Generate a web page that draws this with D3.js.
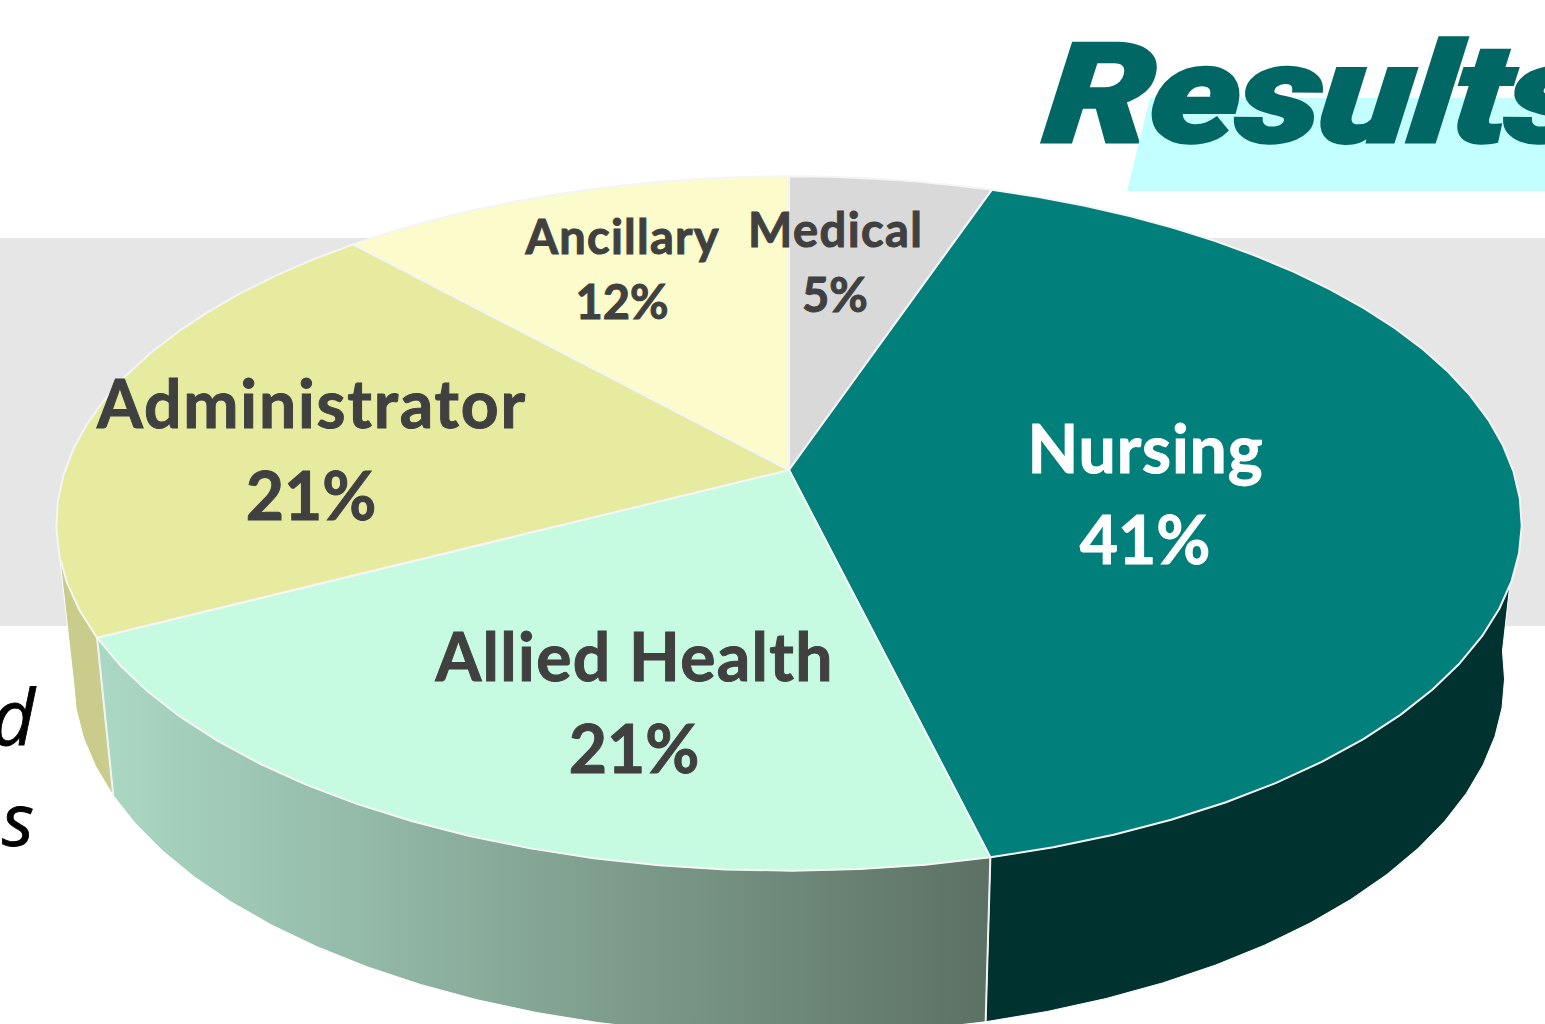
<!DOCTYPE html>
<html lang="en">
<head>
<script src="https://cdn.jsdelivr.net/npm/d3@7/dist/d3.min.js"></script>
<style>
html, body { margin: 0; padding: 0; background: #fff; overflow: hidden; }
#chart { width: 1545px; height: 1024px; }
text { font-family: Lato, "Open Sans", sans-serif; font-weight: 700; }
</style>
</head>
<body>
<div id="chart"></div>
<script>
// chart data (shares, labels show them rounded)
var categories = ["Medical", "Nursing", "Allied Health", "Administrator", "Ancillary"];
var shares = [5.2, 41, 21.2, 20.9, 11.7];
var topColors = ["#d9d9d9", "#007f7b", "#c6fbe2", "#e6eba0", "#fbfbcb"];
var labelColors = ["#404040", "#ffffff", "#404040", "#404040", "#404040"];

// label layout: centre x, first baseline, font size, line gap, name width
var labelLayout = [
    [835, 247, 47, 65, 174],
    [1145, 473, 66, 91, 235],
    [634, 681, 66, 92, 397],
    [311, 428, 66, 92, 428],
    [622, 254, 47, 65, 193]
];

var width = 1545, height = 1024;
var svg = d3.select("#chart").append("svg").attr("width", width).attr("height", height);

var defs = svg.append("defs");
var grad = defs.append("linearGradient").attr("id", "alliedSide")
    .attr("gradientUnits", "userSpaceOnUse")
    .attr("x1", 100).attr("x2", 990).attr("y1", 0).attr("y2", 0);
grad.append("stop").attr("offset", 0).attr("stop-color", "#abd8c5");
grad.append("stop").attr("offset", 1).attr("stop-color", "#5c7163");

// slide background
svg.append("rect").attr("x", 0).attr("y", 238).attr("width", width).attr("height", 388).attr("fill", "#e6e6e6");
svg.append("path").attr("d", "M1150,98H1545V191H1127Z").attr("fill", "#c4ffff");
svg.append("text")
    .attr("transform", "translate(1042,142) skewX(-6) scale(1.22,1)")
    .style("font-family", "Roboto").style("font-weight", 900).style("font-style", "italic")
    .style("font-size", "139px").style("letter-spacing", "-2px").attr("fill", "#006764")
    .attr("stroke", "#006764").attr("stroke-width", 3).text("Results");
svg.append("text").attr("x", -9).attr("y", 745).style("font-weight", 400).style("font-style", "italic")
    .style("font-size", "76px").style("font-family", "'Open Sans'").attr("fill", "#000")
    .attr("stroke", "#000").attr("stroke-width", 0.8).text("d");
svg.append("text").attr("x", 2).attr("y", 846).style("font-weight", 400).style("font-style", "italic")
    .style("font-size", "74px").style("font-family", "'Open Sans'").attr("fill", "#000")
    .attr("stroke", "#000").attr("stroke-width", 0.8).text("s");

// perspective projection of the pie disc, top face and bottom face
var tilt = 0.154;
function projector(cy, a, b) {
    return function(angle) {
        var u = Math.sin(angle), v = -Math.cos(angle), w = 1 - tilt * v;
        return [789 + a * u / w, cy + b * v / w];
    };
}
var topFace = projector(470, 724, 339);
var bottomFace = projector(623, 707, 349);

var arcs = d3.pie().sort(null).value(function(d) { return d; })(shares);
var line = d3.line();

// the original outline is faceted, so sample it coarsely
function samples(a0, a1) {
    var n = Math.max(2, Math.ceil((a1 - a0) / 0.08));
    return d3.range(n + 1).map(function(i) { return a0 + (a1 - a0) * i / n; });
}

// side walls: only the ones facing the viewer
var walls = [
    { i: 1, from: 1.65, fill: "#00322f" },
    { i: 2, from: null, fill: "url(#alliedSide)" },
    { i: 3, to: 4.55, fill: "#c9cc8a" }
];
svg.append("g").selectAll("path").data(walls).enter().append("path")
    .attr("d", function(d) {
        var a = arcs[d.i];
        var ts = samples(d.from || a.startAngle, d.to || a.endAngle);
        var pts = ts.map(topFace).concat(ts.slice().reverse().map(bottomFace));
        return line(pts) + "Z";
    })
    .attr("fill", function(d) { return d.fill; })
    .attr("stroke", "#ffffff")
    .attr("stroke-width", 1);

// white edges between the walls
svg.append("g").selectAll("line").data([1, 2]).enter().append("line")
    .each(function(i) {
        var t = topFace(arcs[i].endAngle), b = bottomFace(arcs[i].endAngle);
        d3.select(this).attr("x1", t[0]).attr("y1", t[1]).attr("x2", b[0]).attr("y2", b[1]);
    })
    .attr("stroke", "#f2f2f2").attr("stroke-width", 2);

// top face
svg.append("g").selectAll("path").data(arcs).enter().append("path")
    .attr("d", function(d) {
        var pts = [[789, 470]].concat(samples(d.startAngle, d.endAngle).map(topFace));
        return line(pts) + "Z";
    })
    .attr("fill", function(d, i) { return topColors[i]; })
    .attr("stroke", "#f5f5f5").attr("stroke-width", 2).attr("stroke-linejoin", "round");

// labels
var labels = svg.append("g").selectAll("g").data(arcs).enter().append("g");
labels.append("text")
    .attr("text-anchor", "middle")
    .attr("x", function(d, i) { return labelLayout[i][0]; })
    .attr("y", function(d, i) { return labelLayout[i][1]; })
    .attr("textLength", function(d, i) { return labelLayout[i][4]; })
    .attr("lengthAdjust", "spacing")
    .style("font-size", function(d, i) { return labelLayout[i][2] + "px"; })
    .attr("fill", function(d, i) { return labelColors[i]; })
    .attr("stroke", function(d, i) { return labelColors[i]; })
    .attr("stroke-width", 1)
    .text(function(d, i) { return categories[i]; });
labels.append("text")
    .attr("text-anchor", "middle")
    .attr("x", function(d, i) { return labelLayout[i][0]; })
    .attr("y", function(d, i) { return labelLayout[i][1] + labelLayout[i][3]; })
    .style("font-size", function(d, i) { return labelLayout[i][2] + "px"; })
    .attr("fill", function(d, i) { return labelColors[i]; })
    .attr("stroke", function(d, i) { return labelColors[i]; })
    .attr("stroke-width", 1)
    .text(function(d) { return Math.round(d.data) + "%"; });
</script>
</body>
</html>
